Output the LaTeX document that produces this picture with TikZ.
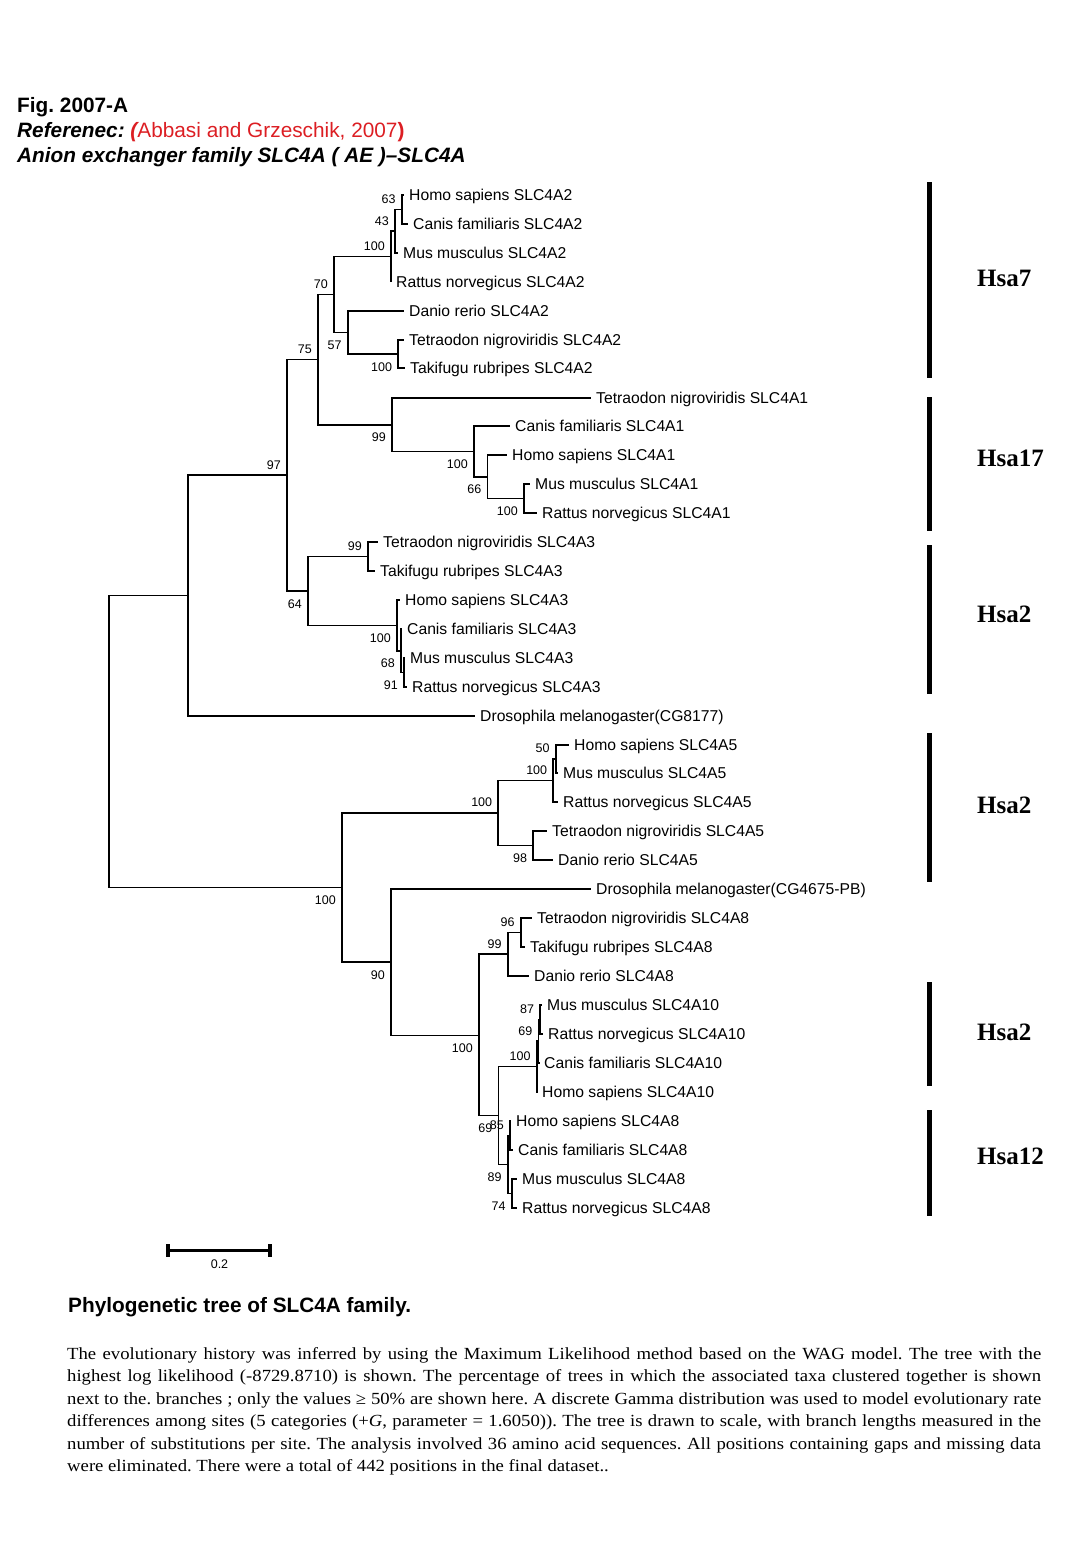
\documentclass[tikz,border=0pt]{standalone}
\usepackage{fontspec}
\setmainfont{Liberation Sans}
\newfontfamily\timesfont{Liberation Serif}
\newfontfamily\descfont{Liberation Serif}[FakeStretch=1.1]
\usetikzlibrary{positioning}
\definecolor{refred}{RGB}{220,30,35}
\frenchspacing

\begin{document}
\begin{tikzpicture}
[
	x=1pt,y=-1pt,
	branch/.style={line width=1.7pt},
	taxon/.style={inner sep=0pt,font=\fontsize{15.7}{18}\selectfont,text height=11.3pt,text depth=0pt},
	boot/.style={inner sep=0pt,font=\fontsize{12.5}{14}\selectfont,text height=9pt,text depth=0pt},
	chrom/.style={anchor=west,inner sep=0pt,font=\timesfont\bfseries\fontsize{25}{28}\selectfont,text height=17pt,text depth=0pt},
	bar/.style={line width=5pt},
	head/.style={anchor=base west,inner sep=0pt,font=\bfseries\fontsize{20.8}{24}\selectfont},
	desc/.style={anchor=base west,inner sep=0pt,font=\descfont\fontsize{17}{20}\selectfont},
]

	\useasboundingbox (0,0) rectangle (1080,1555);

	\begin{scope}
		\node[head] (fig) at (17,112) {Fig. 2007-A};
		\node[head] (ref) at (17,137.7) {\itshape Referenec: \textcolor{refred}{(\upshape\mdseries Abbasi and Grzeschik, 2007\bfseries)}};
		\node[head] (fam) at (17,162.3) {\itshape Anion exchanger family SLC4A ( AE )–SLC4A};
	\end{scope}

	\begin{scope}
		\foreach \n/\x/\y/\t in {
			l1/404/195/Homo sapiens SLC4A2,
			l2/408/224/Canis familiaris SLC4A2,
			l3/398/253/Mus musculus SLC4A2,
			l4/391/282/Rattus norvegicus SLC4A2,
			l5/404/311/Danio rerio SLC4A2,
			l6/404/340/Tetraodon nigroviridis SLC4A2,
			l7/405/368/Takifugu rubripes SLC4A2,
			l8/591/398/Tetraodon nigroviridis SLC4A1,
			l9/510/426/Canis familiaris SLC4A1,
			l10/507/455/Homo sapiens SLC4A1,
			l11/530/484/Mus musculus SLC4A1,
			l12/537/513/Rattus norvegicus SLC4A1,
			l13/378/542/Tetraodon nigroviridis SLC4A3,
			l14/375/571/Takifugu rubripes SLC4A3,
			l15/400/600/Homo sapiens SLC4A3,
			l16/402/629/Canis familiaris SLC4A3,
			l17/405/658/Mus musculus SLC4A3,
			l18/407/687/Rattus norvegicus SLC4A3,
			l19/475/716/Drosophila melanogaster(CG8177),
			l20/569/745/Homo sapiens SLC4A5,
			l21/558/773/Mus musculus SLC4A5,
			l22/558/802/Rattus norvegicus SLC4A5,
			l23/547/831/Tetraodon nigroviridis SLC4A5,
			l24/553/860/Danio rerio SLC4A5,
			l25/591/889/Drosophila melanogaster(CG4675-PB),
			l26/532/918/Tetraodon nigroviridis SLC4A8,
			l27/525/947/Takifugu rubripes SLC4A8,
			l28/529/976/Danio rerio SLC4A8,
			l29/542/1005/Mus musculus SLC4A10,
			l30/543/1034/Rattus norvegicus SLC4A10,
			l31/539/1063/Canis familiaris SLC4A10,
			l32/537/1092/Homo sapiens SLC4A10,
			l33/511/1121/Homo sapiens SLC4A8,
			l34/513/1150/Canis familiaris SLC4A8,
			l35/517/1179/Mus musculus SLC4A8,
			l36/517/1208/Rattus norvegicus SLC4A8}{
			\coordinate (\n) at (\x,\y);
			\node[taxon,right=5pt of \n] (t\n) {\t};
		}

		\foreach \n/\x/\y in {
			n63/401.7/209.5, n43/395/231.25, n100a/391/256.6, n100b/398.3/354,
			n57/347.7/332.5, n70/334/294.6, n100c/524/498.5, n66/487.5/476.75,
			n100d/474/451.4, n99a/392/424.7, n75/318/359.6, n99b/368/556.5,
			n91/404/672.5, n68/401/650.75, n100e/397/625.4, n64/308/591,
			n97/287/475.3, nA/188/595.6, n50/555.7/759, n100f/553.3/780.5,
			n98/533.3/845.5, n100g/498.3/813, n96/520.7/932.5, n99c/507.7/954.25,
			n87/540.3/1019.5, n69a/538.5/1041.25, n100h/536.7/1066.6, n85/510/1135.5,
			n74/511.7/1193.5, n89/507.7/1164.5, n69b/498.5/1115.5, n100i/479/1035.4,
			n90/391/962.2, n100j/342/887.6, root/109/741.6}
			\coordinate (\n) at (\x,\y);

		\foreach \p/\c in {
			n63/l1, n63/l2, n43/n63, n43/l3, n100a/n43, n100a/l4,
			n100b/l6, n100b/l7, n57/l5, n57/n100b, n70/n100a, n70/n57,
			n100c/l11, n100c/l12, n66/l10, n66/n100c, n100d/l9, n100d/n66,
			n99a/l8, n99a/n100d, n75/n70, n75/n99a,
			n99b/l13, n99b/l14, n91/l17, n91/l18, n68/l16, n68/n91,
			n100e/l15, n100e/n68, n64/n99b, n64/n100e, n97/n75, n97/n64,
			nA/n97, nA/l19,
			n50/l20, n50/l21, n100f/n50, n100f/l22, n98/l23, n98/l24,
			n100g/n100f, n100g/n98,
			n96/l26, n96/l27, n99c/n96, n99c/l28,
			n87/l29, n87/l30, n69a/n87, n69a/l31, n100h/n69a, n100h/l32,
			n85/l33, n85/l34, n74/l35, n74/l36, n89/n85, n89/n74,
			n69b/n100h, n69b/n89, n100i/n99c, n100i/n69b,
			n90/l25, n90/n100i, n100j/n100g, n100j/n90,
			root/nA, root/n100j}
			\draw[branch] (\p) |- (\c);

		\foreach \n/\t in {
			n63/63, n43/43, n100a/100, n70/70, n75/75, n97/97, n99b/99,
			n50/50, n100f/100, n100g/100, n96/96, n99c/99,
			n87/87, n69a/69, n100h/100, n85/85}
			\node[boot,above left=6pt and 6pt of \n] (b\n) {\t};

		\foreach \n/\t in {
			n100b/100, n57/57, n100c/100, n66/66, n100d/100, n99a/99,
			n91/91, n68/68, n100e/100, n64/64, n98/98,
			n74/74, n89/89, n69b/69, n100i/100, n90/90, n100j/100}
			\node[boot,below left=8pt and 6pt of \n] (b\n) {\t};
	\end{scope}

	\begin{scope}
		\draw[bar] (929.5,182) -- (929.5,378);
		\draw[bar] (929.5,397) -- (929.5,531);
		\draw[bar] (929.5,545) -- (929.5,694);
		\draw[bar] (929.5,733) -- (929.5,882);
		\draw[bar] (929.5,982) -- (929.5,1086);
		\draw[bar] (929.5,1110) -- (929.5,1216);
		\node[chrom] (hsa7) at (977,278) {Hsa7};
		\node[chrom] (hsa17) at (977,458) {Hsa17};
		\node[chrom] (hsa2a) at (977,614) {Hsa2};
		\node[chrom] (hsa2b) at (977,805) {Hsa2};
		\node[chrom] (hsa2c) at (977,1032) {Hsa2};
		\node[chrom] (hsa12) at (977,1156) {Hsa12};
	\end{scope}

	\begin{scope}
		\coordinate (sbl) at (168,1250.5);
		\coordinate (sbr) at (270,1250.5);
		\draw[line width=3.5pt] (sbl) -- (sbr);
		\draw[line width=4pt] ([yshift=6.5pt]sbl) -- ([yshift=-6.5pt]sbl);
		\draw[line width=4pt] ([yshift=6.5pt]sbr) -- ([yshift=-6.5pt]sbr);
		\node[boot] (sbtext) at (219.5,1264.3) {0.2};
	\end{scope}

	\begin{scope}
		\node[head] (capt) at (68,1312) {Phylogenetic tree of SLC4A family.};
		\node[desc] (d1) at (67,1359.5) {\makebox[974pt][s]{The evolutionary history was inferred by using the Maximum Likelihood method based on the WAG model. The tree with the}};
		\node[desc] (d2) at (67,1381.9) {\makebox[974pt][s]{highest log likelihood (-8729.8710) is shown. The percentage of trees in which the associated taxa clustered together is shown}};
		\node[desc] (d3) at (67,1404.3) {\makebox[974pt][s]{next to the. branches ; only the values ≥ 50\% are shown here. A discrete Gamma distribution was used to model evolutionary rate}};
		\node[desc] (d4) at (67,1426.7) {\makebox[974pt][s]{differences among sites (5 categories (+\textit{G}, parameter = 1.6050)). The tree is drawn to scale, with branch lengths measured in the}};
		\node[desc] (d5) at (67,1449.1) {\makebox[974pt][s]{number of substitutions per site. The analysis involved 36 amino acid sequences. All positions containing gaps and missing data}};
		\node[desc] (d6) at (67,1471.5) {were eliminated. There were a total of 442 positions in the final dataset..};
	\end{scope}
\end{tikzpicture}
\end{document}
